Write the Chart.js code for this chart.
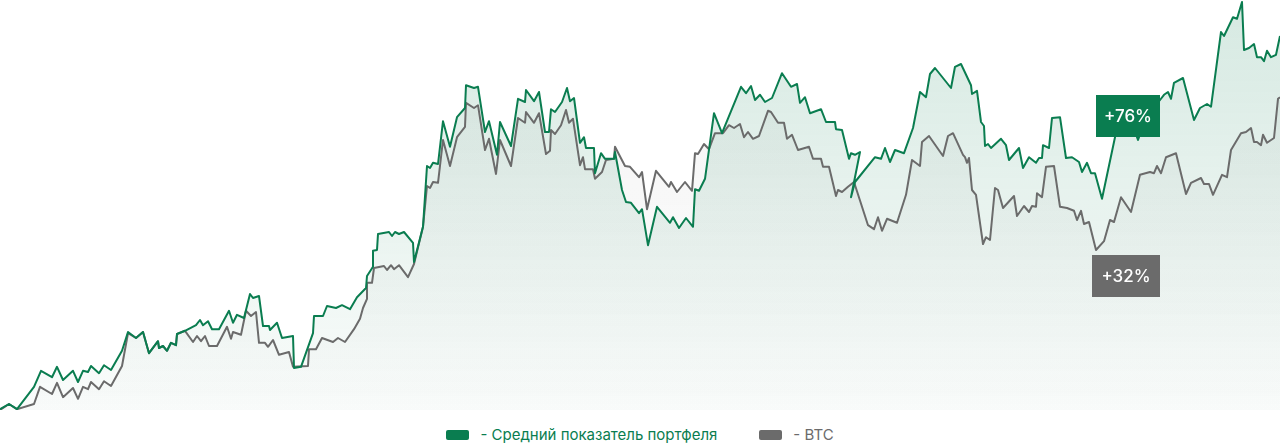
<!DOCTYPE html>
<html>
<head>
<meta charset="utf-8">
<script src="https://cdn.jsdelivr.net/npm/chart.js@4.4.1/dist/chart.umd.min.js"></script>
<style>
  body { margin: 0; background: #fff; font-family: Inter, "Noto Sans", sans-serif; }
  #wrap { position: relative; width: 1280px; height: 444px; }
  #box { position: absolute; left: 0; top: 0; width: 1280px; height: 410px; }
  #legend { position: absolute; top: 426px; left: 0; width: 1280px; display: flex; justify-content: center; gap: 42px; font-size: 15px; line-height: 18px; }
  .item { display: flex; align-items: center; }
  .swatch { width: 23px; height: 10px; border-radius: 2px; margin-right: 11px; }
</style>
</head>
<body>
<div id="wrap">
  <div id="box"><canvas id="chart"></canvas></div>
  <div id="legend"></div>
</div>
<script>
// time index (t) and return, %
const portfolioT = [0,4.5,8.5,17,20.5,26,28.5,31.5,36.5,39,41.5,44,45.5,49.5,52,55.5,61,64,68,71.5,74.5,79,79.5,81.5,83.5,85.5,88,88.5,92.5,98,100,101.5,104,106,109.5,114.5,116.5,118.5,122,125,126.5,129.5,131.5,134.5,135,138.5,141,146.5,147,150.5,156.5,157,161.5,163.5,168,171,175,178.5,183,183.5,186.5,186.5,188.5,189,194.5,196,197.5,199.5,202,206.5,207,211.5,213.5,215,216.5,219,221.5,225,228.5,232.5,233,237,239,242.5,244.5,248.5,250,255.5,259,262.5,263,267,269.5,272.5,274.5,275.5,277.5,281,283.5,285,287,290,292,293,297,297.5,300.5,302.5,307,307.5,311,313,315.5,319.5,321,324,328.5,335,336.5,339.5,343,346.5,347.5,349.5,352.5,357,361,370.5,373,375.5,377.5,380,382.5,386,391,395.5,398.5,400,402.5,405,410.5,413,417.5,418,421,424.5,425.5,427.5,430,425.5,427.5,437.5,440.5,442.5,445,447.5,452,456.5,460,463,465,467.5,475.5,477.5,480.5,485.5,486,488.5,490.5,492,492.5,494,495.5,500.5,503,504.5,509.5,511.5,514.5,518,519.5,521,521.5,524.5,526,530,533,536,539.5,541,543.5,545.5,547.5,551,557.5,561,565,569,574,580,582,584,585.5,587,591.5,597,600,603.5,605.5,610.5,612,616.5,618.5,621,622,624.5,627,628.5,630.5,632,633.5,635.5,638,640];
const portfolioV = [0.2,1.5,0.2,5.8,9.8,8.2,10.8,7.5,9.8,7,9.8,9.5,11,9.2,11.2,10,14.8,19.5,18,19.5,14.2,17.2,15.5,16,14.8,16.8,16.2,19,19.8,21.2,22.5,21.2,22.2,20.2,20.2,24.8,21.8,23.8,23,29,28,28.5,21,21,20,21.8,18,18.5,10.5,10.8,19.2,23.5,23.5,26,25.5,26.2,25.2,28.2,30.5,33.5,35.8,39.8,40,44,44.5,43.5,44.5,44,44.5,41.8,37,45.8,61,60.5,61.8,61.5,72.2,65.8,73.2,75.5,81.2,80.5,80.8,69.5,72.2,63.8,72,66,77.8,77,80,77.2,79.5,69.5,69.5,75.2,74.5,77,80.5,77.2,78,66.8,68.2,65.5,65.5,59.2,64.2,62.8,62.8,64.5,55,52,51.8,49.2,50.2,41.2,50.8,46.8,48.2,45.5,48,45.8,55.2,54.8,57.8,74.2,69.2,80.8,79.2,81,77.5,78.8,77,78,84.2,80.8,81.5,76.8,78.2,74.2,75.2,72,72,70.2,70,62.8,64.2,63.8,64.5,53.2,57,63.2,62.8,65.5,62,65,64.2,70.5,79.5,78.2,84,85.5,80.5,85.8,86.5,81.2,79,79.8,72,71,66,66.5,65.5,67.8,66.2,62.5,65.5,60.5,63.2,61.8,63,63,66.2,65.5,73,73.2,63,63.2,62,59.5,61.8,59.2,59.2,52.8,68.2,74.5,73,67.5,74.5,77.5,78.8,79.5,77.8,81.8,83,72.5,75.5,76.5,75.8,94.5,93.5,98.2,97.8,102,90,90.5,91.5,88.2,88.2,87.2,89.8,88.2,88.8,93.5];

const btcT = [0,4.5,8.5,17,20,26,28.5,31.5,36.5,39,41.5,44,45.5,49.5,52,55.5,61,64,68,71.5,74.5,79,79.5,81.5,83.5,85.5,88,88.5,92.5,96.5,98.5,100.5,102.5,104.5,108.5,113.5,115.5,116.5,120.5,123,125.5,128,129.5,132.5,134,136.5,139.5,144.5,146.5,154,154.5,158,161,166.5,169,172.5,177,180,181.5,183.5,183.5,186,187,192,193.5,195.5,197,199.5,204,207,211.5,213.5,215,216.5,219,221.5,225,228.5,232.5,233,237,239,242.5,244.5,248,250,255.5,259,262.5,263,267,269.5,273,275,275.5,277.5,280.5,283,284.5,286.5,290,291.5,292.5,296.5,297.5,301,303,307,307.5,312.5,315,319.5,321,323.5,328,334.5,335.5,338.5,342.5,346,347.5,349,352,354.5,357.5,361.5,364.5,367,370,372,374,376.5,379.5,384,385.5,389,392,393.5,396,399,404.5,406.5,410.5,411.5,414.5,418,419,421,424,427,434,437,439,441,443.5,448.5,453,456,460,461,464.5,471.5,474,476.5,481.5,482.5,483.5,484.5,486,488,491.5,493,495,497.5,499,501.5,507,508.5,512,514.5,516,518,518.5,521,523,527,530,533.5,537,538.5,540.5,542,544.5,548,552,555,557,560.5,565.5,570,575,577,578.5,580.5,583,588,593,595.5,600.5,602,604.5,606.5,611,613.5,615.5,620.5,623,625.5,627,628.5,630.5,631.5,633.5,637,639,640];
const btcV = [0,1.5,0.2,1.5,5.8,4,6.8,3.2,5.5,2.8,5.8,5.2,7,5.2,7.2,6,11,19.2,18,19.5,14.2,17.2,15.5,16,14.8,16.8,16.2,19,19.8,17,18.5,17.2,18.5,16,16,20.8,17.8,19.5,18.8,24.8,23.5,24.5,16.8,16.8,15.8,17.5,13.8,14.5,10.8,11,15.2,15.2,18,17,18,17,20.2,22.8,25.5,27.8,31.8,31.8,35.5,36,35,36.2,35.2,36.2,33.2,36.5,45.8,56,55.5,57,56.8,67.5,61,68.2,70.8,76.8,75.5,76.2,65,67.8,59,67.5,61,73,71.8,74.5,71.8,74.2,64,64.8,70,69,71.2,75,71.8,72.8,61.2,63.2,60.2,60.2,57.8,59.5,62.5,62.8,65.8,61,60.8,58.2,59.5,50.2,59.8,55.8,57,54.5,57,54.8,64.2,64,66.5,65.2,69.2,69.2,71.2,70.5,71.5,68.2,69.5,67.8,68.5,74.8,74.5,71.8,71.8,67.8,68.8,65,65.8,62.8,62.8,60.8,60.8,53.5,55,54.5,55.8,57,46.2,45.2,48.2,44.8,47.8,46.8,53.8,62.5,61,67,68.5,63.5,68.5,69.2,63.8,63.2,61.8,63,55,53.8,41.5,43.2,42.5,55.5,55,50.5,53.5,48.5,51,49.5,51,50.8,54.2,53.2,60.8,61,50.8,50.5,49.8,47.5,49.8,46.5,47,40,42.2,47.5,47,53.2,49.5,58.8,59.5,59.2,61,59.2,63.2,64.2,54,56.8,58,56.5,56.5,53.8,58.8,58.2,65,69.2,69.5,70.5,67,67,66.2,68.8,66.8,68,77.8,78.2];

const seriesNames = ["- Средний показатель портфеля", "- BTC"];
const badgeTexts = ["+76%", "+32%"];

const GREEN = "#0a7d50";
const GRAY = "#6b6b6b";

function pts(ts, vs) {
  return ts.map((t, i) => ({ x: t, y: vs[i] }));
}

function grad(r, g, b, a0, a1) {
  return (c) => {
    const area = c.chart.chartArea;
    if (!area) return `rgba(${r},${g},${b},${a0})`;
    const gr = c.chart.ctx.createLinearGradient(0, area.top, 0, area.bottom);
    gr.addColorStop(0, `rgba(${r},${g},${b},${a0})`);
    gr.addColorStop(1, `rgba(${r},${g},${b},${a1})`);
    return gr;
  };
}

// badges anchored to the scales: left edge (t) and top edge (value)
const badges = [
  { text: badgeTexts[0], color: GREEN, t: 548, v: 78.75, w: 64, h: 42 },
  { text: badgeTexts[1], color: GRAY, t: 546, v: 38.75, w: 68, h: 42 }
];

const badgePlugin = {
  id: "badges",
  afterDatasetsDraw(chart) {
    const ctx = chart.ctx;
    const xs = chart.scales.x, ys = chart.scales.y;
    ctx.save();
    badges.forEach(b => {
      const left = xs.getPixelForValue(b.t);
      const top = ys.getPixelForValue(b.v);
      ctx.fillStyle = b.color;
      ctx.fillRect(left, top, b.w, b.h);
      ctx.fillStyle = "#fff";
      ctx.font = "500 17px Inter, 'Noto Sans', sans-serif";
      ctx.textAlign = "center";
      ctx.textBaseline = "middle";
      ctx.fillText(b.text, left + b.w / 2, top + b.h / 2 + 1);
    });
    ctx.restore();
  }
};

const chart = new Chart(document.getElementById("chart"), {
  type: "line",
  data: {
    datasets: [
      {
        label: seriesNames[0],
        data: pts(portfolioT, portfolioV),
        borderColor: GREEN,
        borderWidth: 2,
        backgroundColor: grad(10, 125, 80, 0.17, 0.02),
        fill: "origin",
        pointRadius: 0,
        tension: 0,
        borderJoinStyle: "round"
      },
      {
        label: seriesNames[1],
        data: pts(btcT, btcV),
        borderColor: GRAY,
        borderWidth: 2,
        backgroundColor: grad(90, 90, 90, 0.07, 0.01),
        fill: "origin",
        pointRadius: 0,
        tension: 0,
        borderJoinStyle: "round"
      }
    ]
  },
  options: {
    responsive: true,
    maintainAspectRatio: false,
    animation: false,
    layout: { padding: 0 },
    scales: {
      x: { type: "linear", min: 0, max: 640, display: false },
      y: { min: 0, max: 102.5, display: false }
    },
    plugins: {
      legend: { display: false },
      tooltip: { enabled: false },
      filler: { drawTime: "beforeDatasetsDraw" }
    }
  },
  plugins: [badgePlugin]
});

// legend
const legend = document.getElementById("legend");
chart.data.datasets.forEach(ds => {
  const item = document.createElement("div");
  item.className = "item";
  item.innerHTML = `<span class="swatch" style="background:${ds.borderColor}"></span><span style="color:${ds.borderColor}">${ds.label}</span>`;
  legend.appendChild(item);
});
</script>
</body>
</html>
